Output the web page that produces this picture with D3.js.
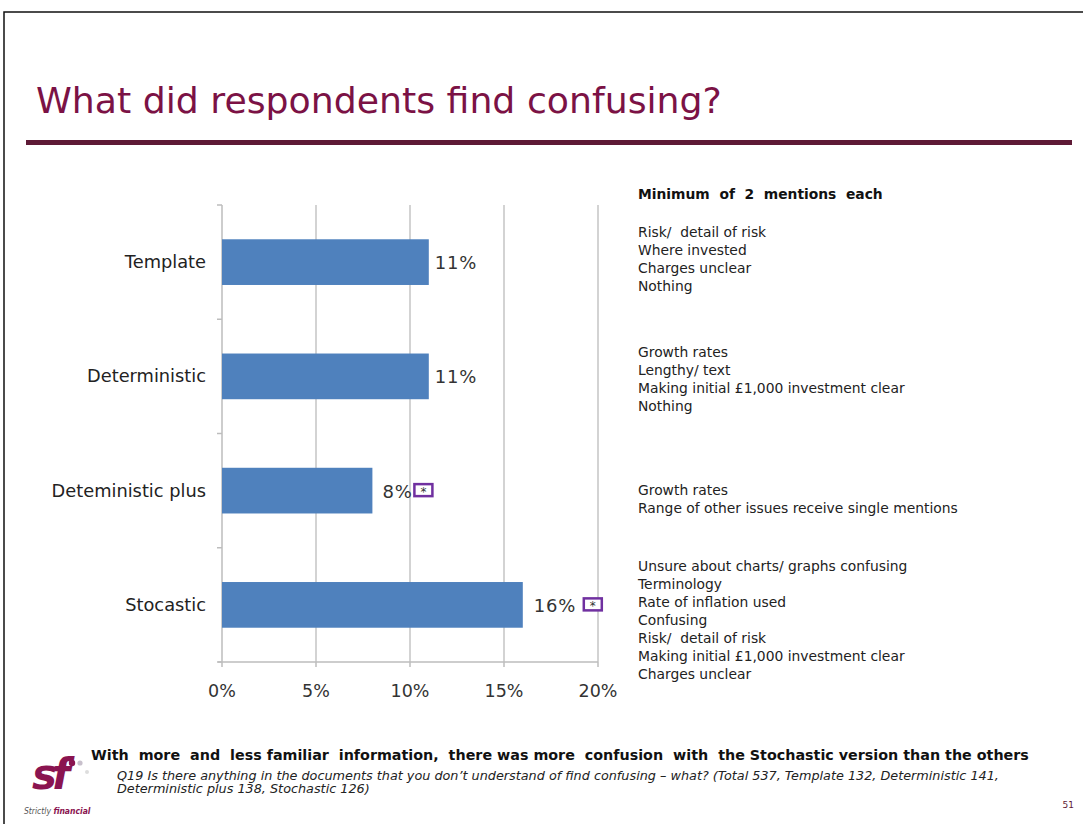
<!DOCTYPE html>
<html><head><meta charset="utf-8">
<script src="https://cdn.jsdelivr.net/npm/d3@7"></script>
<style>
body{margin:0;background:#fff;}
svg{display:block;}
</style></head>
<body>
<svg id="c" width="1083" height="824"></svg>
<script>
const categories = ["Template","Deterministic","Deteministic plus","Stocastic"];
const values = [11, 11, 8, 16];
const significant = [false, false, true, true];
const xTicks = [0,5,10,15,20];
const mentions = [
  ["Risk/  detail of risk","Where invested","Charges unclear","Nothing"],
  ["Growth rates","Lengthy/ text","Making initial £1,000 investment clear","Nothing"],
  ["Growth rates","Range of other issues receive single mentions"],
  ["Unsure about charts/ graphs confusing","Terminology","Rate of inflation used","Confusing","Risk/  detail of risk","Making initial £1,000 investment clear","Charges unclear"]
];
const title = "What did respondents find confusing?";
const mentionsHeading = "Minimum  of  2  mentions  each";
const conclusion = "With  more  and  less familiar  information,  there was more  confusion  with  the Stochastic version than the others";
const footnote = ["Q19  Is there anything in the documents that you don\u2019t understand of find confusing \u2013 what? (Total 537, Template 132, Deterministic 141,",
                  "Deterministic plus 138, Stochastic 126)"];
const pageNo = "51";

const svg = d3.select("#c");
function fit(sel, w){
  const fs = +sel.attr("font-size");
  const cur = sel.node().getComputedTextLength();
  if(cur>0) sel.attr("font-size", fs*w/cur);
  return sel;
}
svg.append("rect").attr("x",4).attr("y",12).attr("width",1090).attr("height",830)
  .attr("fill","none").attr("stroke","#111").attr("stroke-width",1.5);
const tt = svg.append("text").attr("x",36).attr("y",113).text(title)
  .attr("font-family","DejaVu Sans").attr("font-size",36).attr("fill","#7b1245");
fit(tt, 686);
svg.append("rect").attr("x",26).attr("y",140).attr("width",1046).attr("height",5).attr("fill","#5e1a36");

const x = d3.scaleLinear().domain([0,20]).range([222,598]);
const y = d3.scaleBand().domain(categories).range([205,662]).paddingInner(0.6).paddingOuter(0.3);
const g = svg.append("g");
g.selectAll(".grid").data(xTicks.slice(1)).join("line")
  .attr("x1",d=>x(d)).attr("x2",d=>x(d)).attr("y1",205).attr("y2",662)
  .attr("stroke","#c4c4c4").attr("stroke-width",1.5);
g.append("line").attr("x1",222).attr("x2",222).attr("y1",205).attr("y2",662).attr("stroke","#bdbdbd").attr("stroke-width",1.5);
const step = (662-205)/categories.length;
const bandEdges = d3.range(categories.length+1).map(i=>205+i*step);
g.selectAll(".yt").data(bandEdges).join("line")
  .attr("x1",217).attr("x2",222).attr("y1",d=>d).attr("y2",d=>d).attr("stroke","#bdbdbd").attr("stroke-width",1.5);
g.append("line").attr("x1",218).attr("x2",598).attr("y1",662).attr("y2",662).attr("stroke","#bdbdbd").attr("stroke-width",1.5);
g.selectAll(".xt").data(xTicks).join("line")
  .attr("x1",d=>x(d)).attr("x2",d=>x(d)).attr("y1",662).attr("y2",667).attr("stroke","#bdbdbd").attr("stroke-width",1.5);
g.selectAll(".xl").data(xTicks).join("text")
  .attr("x",d=>x(d)).attr("y",697).attr("text-anchor","middle")
  .attr("font-family","DejaVu Sans").attr("font-size",17.5).attr("fill","#333").text(d=>d+"%");
g.selectAll(".bar").data(values).join("rect")
  .attr("x",x(0)).attr("y",(d,i)=>y(categories[i])).attr("width",d=>x(d)-x(0)).attr("height",y.bandwidth())
  .attr("fill","#4f81bd");
g.selectAll(".cl").data(categories).join("text")
  .attr("x",206).attr("y",d=>y(d)+y.bandwidth()/2+6).attr("text-anchor","end")
  .attr("font-family","DejaVu Sans").attr("font-size",17.8).attr("fill","#222").text(d=>d);
g.selectAll(".vl").data(values).join("text")
  .attr("x",(d,i)=>x(d)+(i===2?10:i===3?11:6)).attr("y",(d,i)=>y(categories[i])+y.bandwidth()/2+7)
  .attr("font-family","DejaVu Sans").attr("font-size",18).attr("letter-spacing",0.8).attr("fill","#333").text(d=>d+"%");
values.forEach((v,i)=>{
  if(!significant[i]) return;
  const cy = y(categories[i])+y.bandwidth()/2;
  const bx = i===2 ? x(v)+42 : x(v)+61;
  g.append("rect").attr("x",bx).attr("y",cy-6.5).attr("width",18).attr("height",12)
    .attr("fill","#fff").attr("stroke","#7030a0").attr("stroke-width",2.5);
  g.append("text").attr("x",bx+9).attr("y",cy+5.5).attr("text-anchor","middle")
    .attr("font-family","DejaVu Sans").attr("font-size",12).attr("fill","#333").text("*");
});

const mh = svg.append("text").attr("x",638).attr("y",199).text(mentionsHeading)
  .attr("font-family","DejaVu Sans").attr("font-weight","bold").attr("font-size",13).attr("fill","#111")
  .style("white-space","pre");
fit(mh, 245);
const probe = svg.append("text").text(mentions[2][1]).attr("font-family","DejaVu Sans").attr("font-size",13.5);
fit(probe, 320);
const listFs = +probe.attr("font-size");
probe.remove();
const groupStarts = [237, 357, 495, 571];
mentions.forEach((grp,gi)=>{
  grp.forEach((t,j)=>{
    svg.append("text").attr("x",638).attr("y",groupStarts[gi]+j*18).text(t)
      .attr("font-family","DejaVu Sans").attr("font-size",listFs).attr("fill","#222")
      .style("white-space","pre");
  });
});

const cc = svg.append("text").attr("x",91).attr("y",760).text(conclusion)
  .attr("font-family","DejaVu Sans").attr("font-weight","bold").attr("font-size",14).attr("fill","#111")
  .style("white-space","pre");
fit(cc, 939);
const f0 = svg.append("text").attr("x",117).attr("y",780).text(footnote[0])
  .attr("font-family","DejaVu Sans").attr("font-style","italic").attr("font-size",12).attr("fill","#222");
fit(f0, 883);
svg.append("text").attr("x",117).attr("y",793).text(footnote[1])
  .attr("font-family","DejaVu Sans").attr("font-style","italic").attr("font-size",f0.attr("font-size")).attr("fill","#222");
svg.append("text").attr("x",1074).attr("y",808).attr("text-anchor","end").text(pageNo)
  .attr("font-family","DejaVu Sans").attr("font-size",9).attr("fill","#5e1a36");

// logo
svg.append("text").attr("x",32).attr("y",789).text("sf")
  .attr("font-family","DejaVu Sans").attr("font-weight","bold").attr("font-style","italic")
  .attr("font-size",42).attr("fill","#8a1450").attr("letter-spacing",-5);
svg.append("circle").attr("cx",72).attr("cy",763).attr("r",3.2).attr("fill","#8a1450");
svg.append("circle").attr("cx",80).attr("cy",763).attr("r",2.6).attr("fill","#c8c0cc");
svg.append("circle").attr("cx",87).attr("cy",772).attr("r",2).attr("fill","#ddd");
const lt = svg.append("text").attr("x",24).attr("y",814).attr("font-family","DejaVu Sans Condensed, DejaVu Sans")
  .attr("font-style","italic").attr("font-size",8.5).attr("fill","#555");
lt.append("tspan").text("Strictly ");
lt.append("tspan").text("financial").attr("font-weight","bold").attr("fill","#8a1450");
</script>
</body></html>
